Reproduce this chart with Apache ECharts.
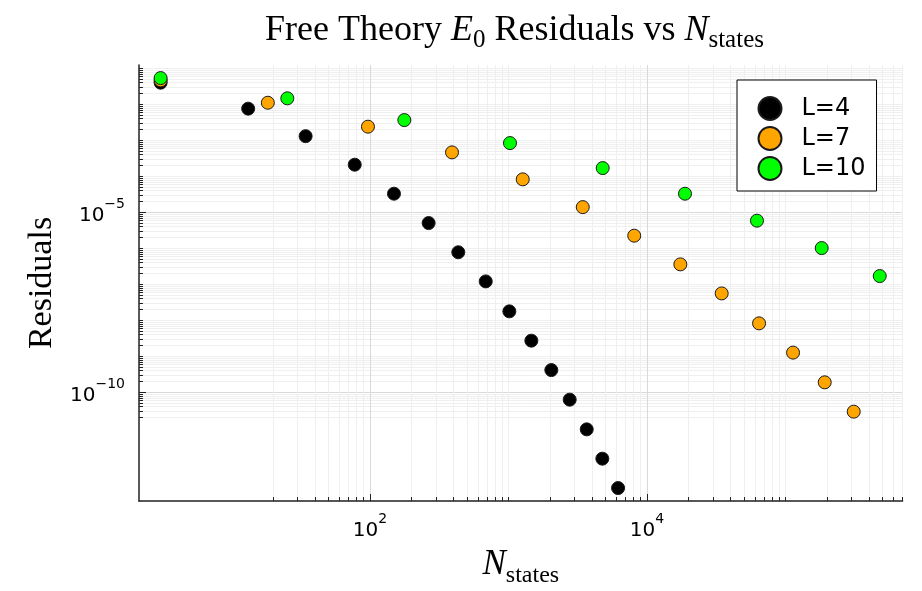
<!DOCTYPE html>
<html>
<head>
<meta charset="utf-8">
<title>Free Theory E0 Residuals vs N_states</title>
<script src="https://cdn.jsdelivr.net/npm/echarts@6.0.0/dist/echarts.min.js"></script>
<style>
  html, body { margin: 0; padding: 0; background: #fff; }
  #chart { width: 922px; height: 591px; }
</style>
</head>
<body>
<div id="chart"></div>
<script>
// values (log-log)
const nStatesL4 = [3.08, 13.2, 34.3, 77.6, 149, 265, 434, 685, 1014, 1462, 2038, 2766, 3671, 4757, 6180]
const residL4 = [4.0e-2, 7.6e-3, 1.31e-3, 2.11e-4, 3.30e-5, 5.05e-6, 7.8e-7, 1.21e-7, 1.78e-8, 2.73e-9, 4.16e-10, 6.27e-11, 9.38e-12, 1.44e-12, 2.20e-13]

const nStatesL7 = [3.08, 18.3, 96.7, 391, 1267, 3436, 8085, 17400, 34600, 64400, 113300, 191800, 310700]
const residL7 = [4.64e-2, 1.11e-2, 2.40e-3, 4.64e-4, 8.26e-5, 1.40e-5, 2.25e-6, 3.59e-7, 5.6e-8, 8.26e-9, 1.27e-9, 1.90e-10, 2.91e-11]

const nStatesL10 = [3.08, 25.3, 177, 1025, 4786, 18800, 62200, 182400, 478600]
const residL10 = [5.38e-2, 1.47e-2, 3.66e-3, 8.41e-4, 1.70e-4, 3.30e-5, 5.88e-6, 1.02e-6, 1.70e-7]

const seriesNames = ['L=4', 'L=7', 'L=10']
const xMajorTicks = [1e2, 1e4]
const yMajorTicks = [1e-10, 1e-5]

const xMin = 2.15
const xMax = 7e5
const yMin = 9.6e-14
const yMax = 0.124

// 1..9 x 10^e ticks, like the Plots.jl log minor ticks
function logTicks(fromExp, toExp, lo, hi) {
  const out = []
  for (let e = fromExp; e <= toExp; e++) {
    for (let m = 1; m <= 9; m++) {
      const v = m * Math.pow(10, e)
      if (v >= lo * 0.999 && v <= hi) out.push(v)
    }
  }
  return out
}

const xMinorTicks = logTicks(1, 5, 20, xMax)
const yMinorTicks = logTicks(-11, -1, 2e-11, yMax)

const axisColor = '#222'
const serif = 'Liberation Serif'
const sans = 'DejaVu Sans'

function powLabel(v) {
  const e = Math.round(Math.log10(v))
  return '{b|10}{s|' + String(e).replace('-', '\u2212') + '}'
}

const labelRich = {
  b: { fontFamily: sans, fontSize: 20, color: '#000', padding: [6, 0, 0, 0] },
  s: { fontFamily: sans, fontSize: 14, color: '#000', padding: [0, 0, 16, 0] }
}

function makeSeries(name, xs, ys, color, size) {
  return {
    name: name,
    type: 'scatter',
    data: xs.map((x, i) => [x, ys[i]]),
    symbol: 'circle',
    symbolSize: size,
    itemStyle: { color: color, borderColor: '#1a1a1a', borderWidth: 1, opacity: 1 },
    emphasis: { disabled: true }
  }
}

const chart = echarts.init(document.getElementById('chart'))

const option = {
  animation: false,
  backgroundColor: '#fff',
  title: {
    text: 'Free Theory {e|E}{sub|0} Residuals vs {e|N}{sub|states}',
    left: 265,
    top: 8,
    padding: 0,
    textStyle: {
      fontFamily: serif,
      fontSize: 36,
      fontWeight: 'normal',
      color: '#000',
      rich: {
        e: { fontFamily: serif, fontSize: 36, fontStyle: 'italic', color: '#000' },
        sub: { fontFamily: serif, fontSize: 25, color: '#000', padding: [20, 0, 0, 0] }
      }
    }
  },
  legend: {
    orient: 'vertical',
    left: 737,
    top: 80,
    padding: [16, 11, 10, 20.5],
    itemWidth: 53,
    itemHeight: 23,
    itemGap: 5,
    icon: 'circle',
    backgroundColor: '#fff',
    borderColor: '#000',
    borderWidth: 1,
    borderRadius: 0,
    textStyle: { fontFamily: sans, fontSize: 24, color: '#000' },
    data: seriesNames
  },
  grid: {
    left: 139,
    right: 19.4,
    top: 65,
    bottom: 90,
    outerBoundsMode: 'none'
  },
  xAxis: [
    {
      type: 'log',
      min: xMin,
      max: xMax,
      position: 'bottom',
      axisLine: { show: true, onZero: false, lineStyle: { color: axisColor, width: 1.5 } },
      axisTick: { show: true, inside: true, length: 4, customValues: xMinorTicks, lineStyle: { color: axisColor, width: 1 } },
      axisLabel: { show: false },
      splitLine: { show: true, lineStyle: { color: '#efefef', width: 1 } },
      name: '{n|N}{sub|states}',
      nameLocation: 'middle',
      nameGap: 40,
      nameMoveOverlap: false,
      nameTextStyle: {
        rich: {
          n: { fontFamily: serif, fontSize: 35, fontStyle: 'italic', color: '#000' },
          sub: { fontFamily: serif, fontSize: 24, color: '#000', padding: [23, 0, 0, 0] }
        }
      }
    },
    {
      type: 'log',
      min: xMin,
      max: xMax,
      position: 'bottom',
      axisLine: { show: false },
      axisTick: { show: true, inside: true, length: 7, customValues: xMajorTicks, lineStyle: { color: axisColor, width: 1 } },
      axisLabel: { show: true, customValues: xMajorTicks, formatter: powLabel, margin: 11.5, rich: labelRich },
      splitLine: { show: true, lineStyle: { color: '#d9d9d9', width: 1 } }
    }
  ],
  yAxis: [
    {
      type: 'log',
      min: yMin,
      max: yMax,
      position: 'left',
      axisLine: { show: true, onZero: false, lineStyle: { color: axisColor, width: 1.5 } },
      axisTick: { show: true, inside: true, length: 4, customValues: yMinorTicks, lineStyle: { color: axisColor, width: 1 } },
      axisLabel: { show: false },
      splitLine: { show: true, lineStyle: { color: '#efefef', width: 1 } },
      name: 'Residuals',
      nameLocation: 'middle',
      nameGap: 80,
      nameMoveOverlap: false,
      nameTextStyle: { fontFamily: serif, fontSize: 34, color: '#000' }
    },
    {
      type: 'log',
      min: yMin,
      max: yMax,
      position: 'left',
      axisLine: { show: false },
      axisTick: { show: true, inside: true, length: 7, customValues: yMajorTicks, lineStyle: { color: axisColor, width: 1 } },
      axisLabel: { show: true, customValues: yMajorTicks, formatter: powLabel, margin: 14, rich: labelRich },
      splitLine: { show: true, lineStyle: { color: '#d9d9d9', width: 1 } }
    }
  ],
  series: [
    makeSeries(seriesNames[0], nStatesL4, residL4, '#000000', 13),
    makeSeries(seriesNames[1], nStatesL7, residL7, '#FFA500', 13),
    makeSeries(seriesNames[2], nStatesL10, residL10, '#00FF00', 13)
  ]
}

chart.setOption(option)
</script>
</body>
</html>
